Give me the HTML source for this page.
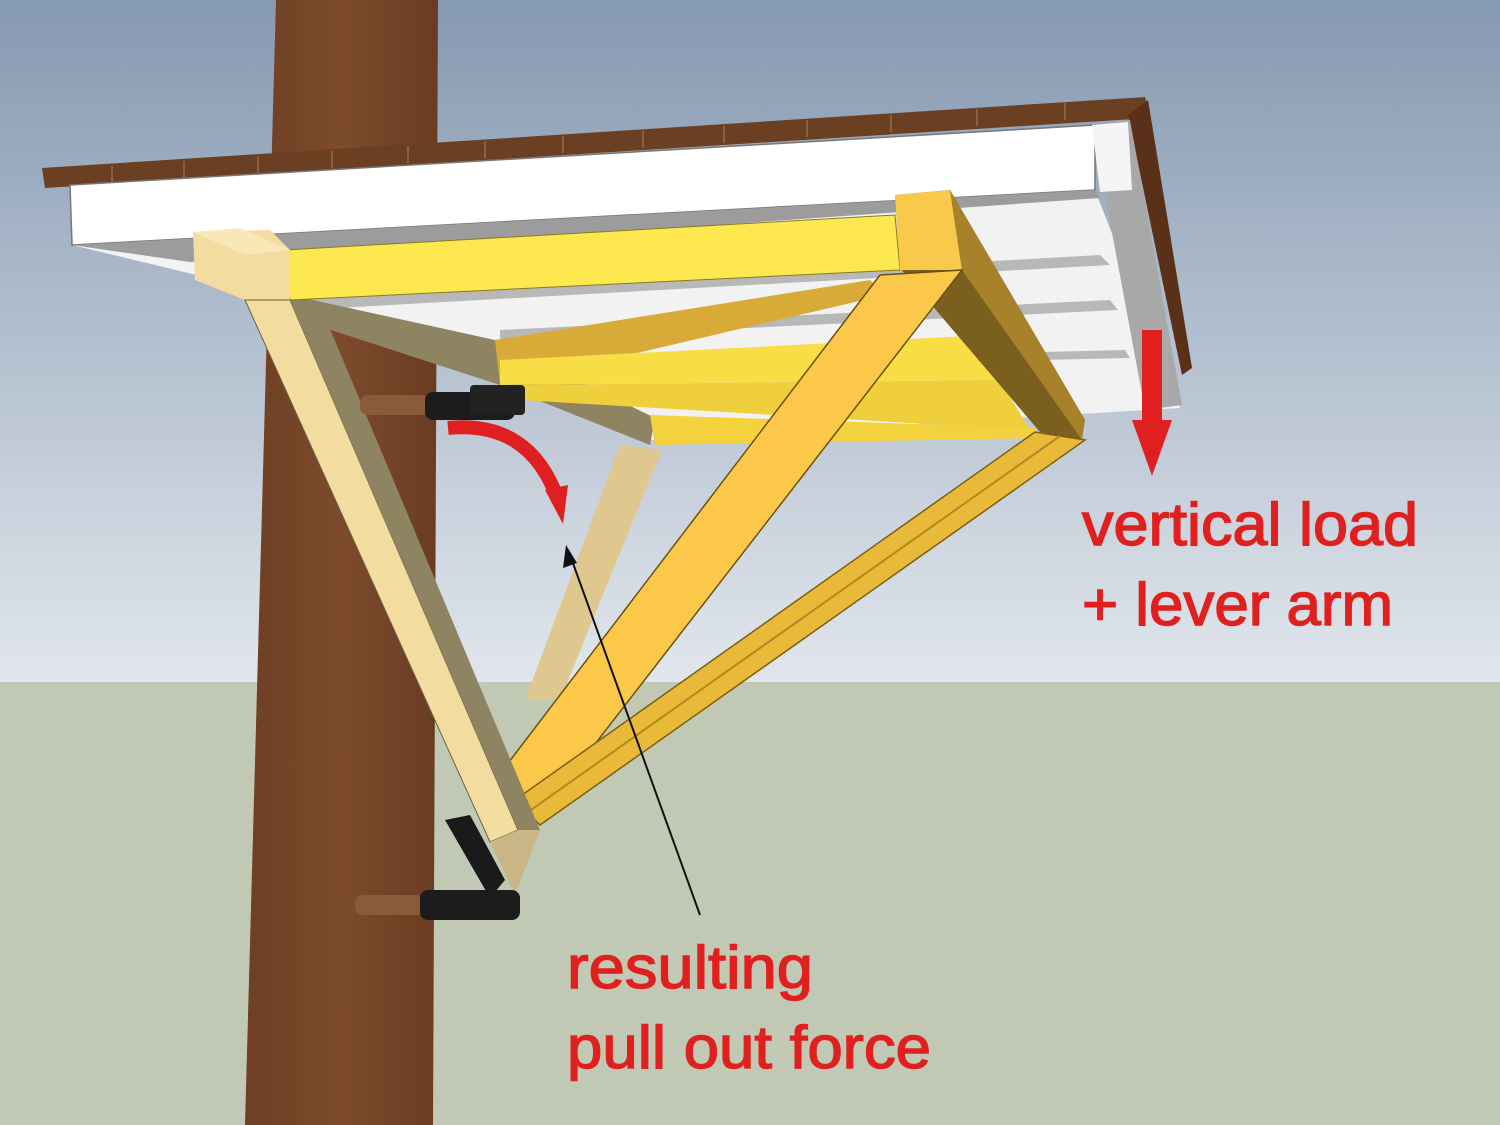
<!DOCTYPE html>
<html><head><meta charset="utf-8"><style>
html,body{margin:0;padding:0;width:1500px;height:1125px;overflow:hidden}
svg{display:block}
text{font-family:"Liberation Sans",sans-serif;fill:#e0201f;font-size:60px;stroke:#e0201f;stroke-width:1.4}
</style></head><body>
<svg width="1500" height="1125" viewBox="0 0 1500 1125" xmlns="http://www.w3.org/2000/svg">
<defs>
<linearGradient id="sky" x1="0" y1="0" x2="0" y2="1">
<stop offset="0" stop-color="#8599b1"/><stop offset="1" stop-color="#e1e6ec"/></linearGradient>
<linearGradient id="trunk" x1="0" y1="0" x2="1" y2="0">
<stop offset="0" stop-color="#6e3f24"/><stop offset="0.5" stop-color="#7d4a2c"/><stop offset="1" stop-color="#6a3c22"/></linearGradient>
</defs>
<rect width="1500" height="682" fill="url(#sky)"/>
<rect y="682" width="1500" height="443" fill="#c1c9b5"/>
<polygon points="276,0 438,0 433,1125 245,1125" fill="url(#trunk)"/>
<!-- deck boards -->
<polygon points="42,168 1145,97 1150,118 45,188" fill="#6b3f22"/>
<g stroke="#8a6040" stroke-width="2">
<line x1="112" y1="166" x2="112" y2="183"/><line x1="184" y1="161" x2="184" y2="178"/>
<line x1="258" y1="156" x2="258" y2="173"/><line x1="332" y1="151" x2="332" y2="168"/>
<line x1="408" y1="146" x2="408" y2="163"/><line x1="485" y1="141" x2="485" y2="158"/>
<line x1="563" y1="136" x2="563" y2="153"/><line x1="643" y1="131" x2="643" y2="148"/>
<line x1="724" y1="126" x2="724" y2="143"/><line x1="807" y1="120" x2="807" y2="137"/>
<line x1="891" y1="115" x2="891" y2="132"/><line x1="977" y1="109" x2="977" y2="126"/>
<line x1="1065" y1="103" x2="1065" y2="120"/></g>
<polygon points="1128,115 1148,100 1192,368 1182,375" fill="#5a3018"/>
<polygon points="72,245 1095,190 1180,408 650,440 300,300" fill="#f2f2f2"/>
<polygon points="300,300 1100,255 1110,265 300,310" fill="#b8b8b8"/>
<polygon points="500,330 1110,300 1118,310 500,340" fill="#b8b8b8"/>
<polygon points="500,365 1125,350 1130,358 500,372" fill="#b8b8b8"/>
<polygon points="70,185 1095,125 1095,190 72,245" fill="#ffffff" stroke="#777" stroke-width="1.5"/>
<polygon points="72,245 1095,190 1100,198 190,262" fill="#9c9c9c"/>
<polygon points="1092,125 1130,120 1182,405 1145,410" fill="#a8a8a8"/>
<polygon points="1092,125 1128,122 1132,190 1100,192" fill="#f5f5f5"/>
<polygon points="290,295 495,340 655,418 650,445 500,385 300,320" fill="#8e8462"/>
<polygon points="495,340 870,280 885,295 500,385" fill="#d8ab38"/>
<polygon points="500,360 990,335 1000,380 500,385" fill="#f9dd45"/>
<polygon points="510,385 1000,380 1030,430 520,400" fill="#f0cf3c"/>
<polygon points="650,415 1035,428 1040,438 655,445" fill="#f4d23d"/>
<polygon points="620,445 662,450 560,700 525,700" fill="#dfc890"/>
<polygon points="285,250 895,215 900,270 290,300" fill="#fde84f" stroke="#8a7a20" stroke-width="1"/>
<polygon points="193,232 270,230 290,250 290,300 245,300 195,280" fill="#f3dca0"/>
<polygon points="193,232 240,228 290,250 245,255" fill="#f8e8b8"/>
<polygon points="895,195 950,190 1085,420 1080,440 1040,432 900,268" fill="#7b5f1f"/>
<polygon points="895,195 950,190 962,270 900,270" fill="#f8c94a"/>
<polygon points="950,190 962,270 1082,440 1085,420" fill="#a7822b"/>
<polygon points="880,275 962,270 530,828 480,800" fill="#fbc84a" stroke="#6b5010" stroke-width="1.5"/>
<polygon points="1035,432 1085,440 540,825 515,800" fill="#e9b93a" stroke="#7a6010" stroke-width="1.5"/>
<line x1="1060" y1="436" x2="528" y2="812" stroke="#b08a20" stroke-width="2"/>
<polygon points="245,300 290,300 518,830 490,842" fill="#f3dca0" stroke="#6b6040" stroke-width="1"/>
<polygon points="290,300 320,305 540,830 518,830" fill="#8e8462"/>
<polygon points="490,842 518,830 540,830 515,895" fill="#c9b585"/>
<polygon points="445,820 470,815 505,880 490,898" fill="#1a1a1a"/>
<rect x="360" y="395" width="70" height="20" fill="#8a5a3a" rx="8"/>
<rect x="425" y="392" width="90" height="28" fill="#1c1c1c" rx="8"/>
<rect x="470" y="385" width="55" height="30" fill="#222" rx="4"/>
<rect x="355" y="895" width="70" height="20" fill="#8a5a3a" rx="8"/>
<rect x="420" y="890" width="100" height="30" fill="#1c1c1c" rx="8"/>
<rect x="1142" y="330" width="20" height="92" fill="#e02020"/>
<polygon points="1132,420 1172,420 1152,476" fill="#e02020"/>
<path d="M448,428 Q530,420 558,500" stroke="#e02020" stroke-width="14" fill="none"/>
<polygon points="545,490 568,485 563,524" fill="#e02020"/>
<line x1="700" y1="915" x2="570" y2="555" stroke="#111" stroke-width="2"/>
<polygon points="566,545 563,568 577,563" fill="#111"/>
<text x="1082" y="545" textLength="336" lengthAdjust="spacingAndGlyphs">vertical load</text>
<text x="1082" y="625" textLength="311" lengthAdjust="spacingAndGlyphs">+ lever arm</text>
<text x="567" y="988" textLength="246" lengthAdjust="spacingAndGlyphs">resulting</text>
<text x="567" y="1068" textLength="364" lengthAdjust="spacingAndGlyphs">pull out force</text>
</svg>
</body></html>
